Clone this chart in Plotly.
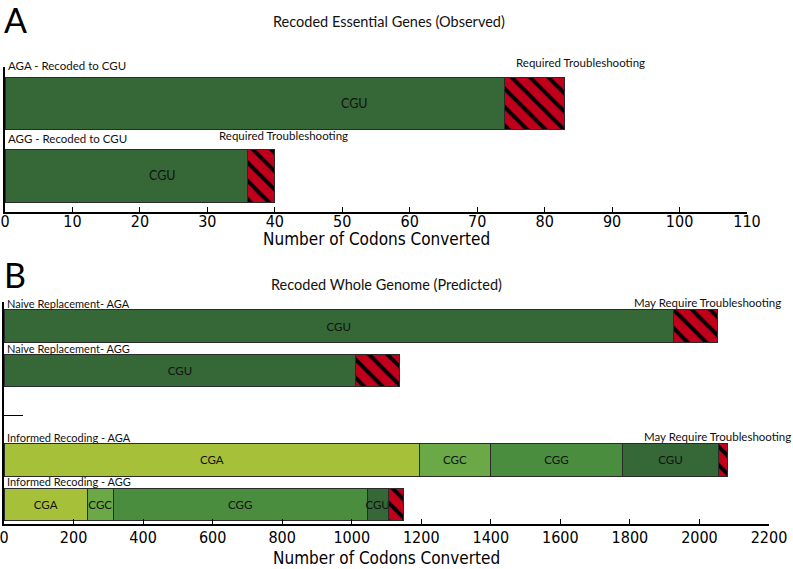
import plotly.graph_objects as go

# ---------------- data ----------------
# Panel A: Recoded Essential Genes (Observed)
top_rows = ["AGA - Recoded to CGU", "AGG - Recoded to CGU"]
top_cgu = [74, 36]
top_trouble = [9, 4]
top_trouble_label = "Required Troubleshooting"
top_ticks = [0, 10, 20, 30, 40, 50, 60, 70, 80, 90, 100, 110]

# Panel B: Recoded Whole Genome (Predicted)
bot_rows = ["Naive Replacement- AGA", "Naive Replacement- AGG", "gap",
            "Informed Recoding - AGA", "Informed Recoding - AGG"]
bot_cga = [None, None, None, 1196, 240]
bot_cgc = [None, None, None, 202, 74]
bot_cgg = [None, None, None, 381, 730]
bot_cgu = [1925, 1012, None, 275, 61]
bot_trouble = [128, 124, None, 26, 44]
bot_trouble_label = "May Require Troubleshooting"
bot_ticks = [0, 200, 400, 600, 800, 1000, 1200, 1400, 1600, 1800, 2000, 2200]
x_title = "Number of Codons Converted"

# ---------------- style ----------------
C_CGA = "#a6c03a"
C_CGC = "#6aa945"
C_CGG = "#4b8d3f"
C_CGU = "#356737"
C_RED = "#c0001a"
EDGE = "#2a2a2a"
LABEL_FONT = "Lato, 'Open Sans', sans-serif"
NARROW_FONT = "'DejaVu Sans Condensed', 'Liberation Sans', sans-serif"

fig = go.Figure()


def seg(name, xvals, rows, color, xa, ya, show_text=True, pattern=False):
    texts = [(name if (v is not None and show_text) else "") for v in xvals]
    marker = dict(color=color, line=dict(color=EDGE, width=1))
    if pattern:
        marker["pattern"] = dict(shape="\\", fgcolor="#000000", bgcolor=C_RED,
                                 size=13, solidity=0.3, fillmode="replace")
    fig.add_trace(go.Bar(
        x=xvals, y=rows, orientation="h", name=name, marker=marker,
        text=texts, textposition="inside", insidetextanchor="middle",
        constraintext="none", textangle=0,
        textfont=dict(family=LABEL_FONT, size=11.5, color="#111111"),
        width=0.73, xaxis=xa, yaxis=ya, showlegend=False, hoverinfo="x+y",
    ))


# top panel (text labels added separately)
seg("CGU", top_cgu, top_rows, C_CGU, "x", "y", show_text=False)
seg("Troubleshooting", top_trouble, top_rows, C_RED, "x", "y", show_text=False, pattern=True)

# bottom panel
seg("CGA", bot_cga, bot_rows, C_CGA, "x2", "y2")
seg("CGC", bot_cgc, bot_rows, C_CGC, "x2", "y2")
seg("CGG", bot_cgg, bot_rows, C_CGG, "x2", "y2")
seg("CGU", bot_cgu, bot_rows, C_CGU, "x2", "y2")
seg("Troubleshooting", bot_trouble, bot_rows, C_RED, "x2", "y2", show_text=False, pattern=True)

ann = []
# row labels
for r in top_rows:
    ann.append(dict(x=0, y=r, xref="x", yref="y", text=r, showarrow=False,
                    xanchor="left", yanchor="bottom", xshift=1, yshift=29,
                    font=dict(family=LABEL_FONT, size=11.5, color="#111")))
for r in bot_rows:
    if r == "gap":
        continue
    ann.append(dict(x=0, y=r, xref="x2", yref="y2", text=r, showarrow=False,
                    xanchor="left", yanchor="bottom", xshift=1, yshift=14,
                    font=dict(family=LABEL_FONT, size=11, color="#111")))

# CGU labels in top panel
top_label_frac = [0.70, 0.65]
for r, v, f in zip(top_rows, top_cgu, top_label_frac):
    ann.append(dict(x=v * f, y=r, xref="x", yref="y", text="CGU", showarrow=False,
                    font=dict(family=LABEL_FONT, size=12.5, color="#111")))

# troubleshooting labels
top_shift = [16, 9]
for r, a, b, s in zip(top_rows, top_cgu, top_trouble, top_shift):
    ann.append(dict(x=a + b, y=r, xref="x", yref="y", text=top_trouble_label,
                    showarrow=False, xanchor="center", yanchor="bottom",
                    xshift=s, yshift=32,
                    font=dict(family=LABEL_FONT, size=11.5, color="#111")))
for i in (0, 3):
    tot = sum(v for v in (bot_cga[i], bot_cgc[i], bot_cgg[i], bot_cgu[i], bot_trouble[i]) if v)
    ann.append(dict(x=tot, y=bot_rows[i], xref="x2", yref="y2", text=bot_trouble_label,
                    showarrow=False, xanchor="center", yanchor="bottom",
                    xshift=-10, yshift=15,
                    font=dict(family=LABEL_FONT, size=11.5, color="#111")))

# panel letters and titles
ann.append(dict(x=2 / 793, y=1 - 20 / 569, xref="paper", yref="paper", text="A",
                showarrow=False, xanchor="left", yanchor="middle",
                font=dict(family=LABEL_FONT, size=34, color="#000")))
ann.append(dict(x=2 / 793, y=1 - 274 / 569, xref="paper", yref="paper", text="B",
                showarrow=False, xanchor="left", yanchor="middle",
                font=dict(family=LABEL_FONT, size=34, color="#000")))
ann.append(dict(x=389 / 793, y=1 - 22 / 569, xref="paper", yref="paper",
                text="Recoded Essential Genes (Observed)", showarrow=False,
                xanchor="center", yanchor="middle",
                font=dict(family=LABEL_FONT, size=14.5, color="#111")))
ann.append(dict(x=386 / 793, y=1 - 284 / 569, xref="paper", yref="paper",
                text="Recoded Whole Genome (Predicted)", showarrow=False,
                xanchor="center", yanchor="middle",
                font=dict(family=LABEL_FONT, size=14.5, color="#111")))
# axis titles
ann.append(dict(x=0.5, y=1 - 239 / 569, xref="x domain", yref="paper", text=x_title,
                showarrow=False, xanchor="center", yanchor="middle",
                font=dict(family=NARROW_FONT, size=17, color="#000")))
ann.append(dict(x=0.5, y=1 - 558 / 569, xref="x2 domain", yref="paper", text=x_title,
                showarrow=False, xanchor="center", yanchor="middle",
                font=dict(family=NARROW_FONT, size=17, color="#000")))

axis_common = dict(showgrid=False, zeroline=False, showline=True, linecolor="#000",
                   linewidth=1.5, ticks="inside", ticklen=5, tickwidth=1,
                   tickcolor="#000", automargin=False, ticklabeloverflow="allow",
                   tickfont=dict(family=NARROW_FONT, size=16, color="#000"))

fig.update_layout(
    width=793, height=569, margin=dict(l=0, r=0, t=0, b=0),
    paper_bgcolor="white", plot_bgcolor="white",
    barmode="stack", bargap=0.27,
    annotations=ann,
    xaxis=dict(domain=[5 / 793, 747 / 793], anchor="y", range=[0, 110],
               tickvals=top_ticks, ticklabelstandoff=-6, **axis_common),
    yaxis=dict(domain=[1 - 212 / 569, 1 - 67 / 569], anchor="x",
               type="category", categoryorder="array",
               categoryarray=list(reversed(top_rows)),
               range=[-0.497, 1.503], showticklabels=False, ticks="",
               showline=True, linecolor="#000", linewidth=1.5, automargin=False,
               showgrid=False, zeroline=False),
    xaxis2=dict(domain=[4 / 793, 769 / 793], anchor="y2", range=[0, 2200],
                tickvals=bot_ticks, ticklabelstandoff=-2, **axis_common),
    yaxis2=dict(domain=[1 - 524 / 569, 1 - 302 / 569], anchor="x2",
                type="category", categoryorder="array",
                categoryarray=list(reversed(bot_rows)),
                range=[-0.437, 4.538], tickvals=["gap"], ticktext=[""],
                ticks="inside", ticklen=19, tickwidth=1.2, tickcolor="#000",
                showline=True, linecolor="#000", linewidth=1.5, automargin=False,
                showgrid=False, zeroline=False),
)

fig.write_html(
    "out.html",
    config={"displayModeBar": False},
    post_script="document.body.style.margin='0';document.body.style.padding='0';",
)
